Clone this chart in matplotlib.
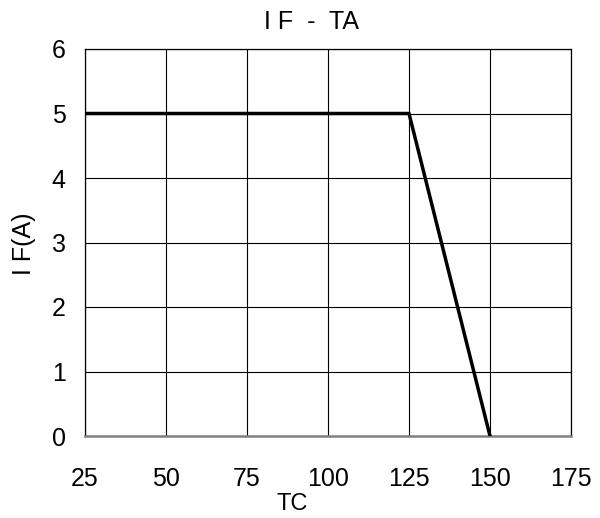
import matplotlib
matplotlib.use("Agg")
import matplotlib.pyplot as plt

# data
tc = [25, 125, 150]
i_f = [5, 5, 0]
x_ticks = [25, 50, 75, 100, 125, 150, 175]
y_ticks = [0, 1, 2, 3, 4, 5, 6]

plt.rcParams['font.family'] = ['Liberation Sans', 'DejaVu Sans']

fig = plt.figure(figsize=(6.0, 5.18), dpi=100)
ax = fig.add_axes([85 / 600, 1 - 436 / 518, (571 - 85) / 600, (436 - 49) / 518])

ax.plot(tc, i_f, color='black', linewidth=2.5, solid_joinstyle='miter', zorder=3)

ax.set_xlim(25, 175)
ax.set_ylim(0, 6)
ax.set_xticks(x_ticks)
ax.set_yticks(y_ticks)
ax.tick_params(axis='both', length=0, labelsize=18)
ax.tick_params(axis='x', pad=22)
ax.tick_params(axis='y', pad=14)

ax.grid(True, color='black', linewidth=0.8)
ax.set_axisbelow(True)

for side in ['left', 'right', 'top']:
    ax.spines[side].set_color('black')
    ax.spines[side].set_linewidth(0.9)
ax.spines['bottom'].set_color('#808080')
ax.spines['bottom'].set_linewidth(1.8)

fig.text(312 / 600, 1 - 22 / 518, 'I F  -  TA', ha='center', va='center', fontsize=18)
fig.text(292 / 600, 1 - 504 / 518, 'TC', ha='center', va='center', fontsize=17)
fig.text(24 / 600, 1 - 244 / 518, 'I F(A)', ha='center', va='center',
         rotation=90, fontsize=18)

fig.savefig('out.png', dpi=100)
